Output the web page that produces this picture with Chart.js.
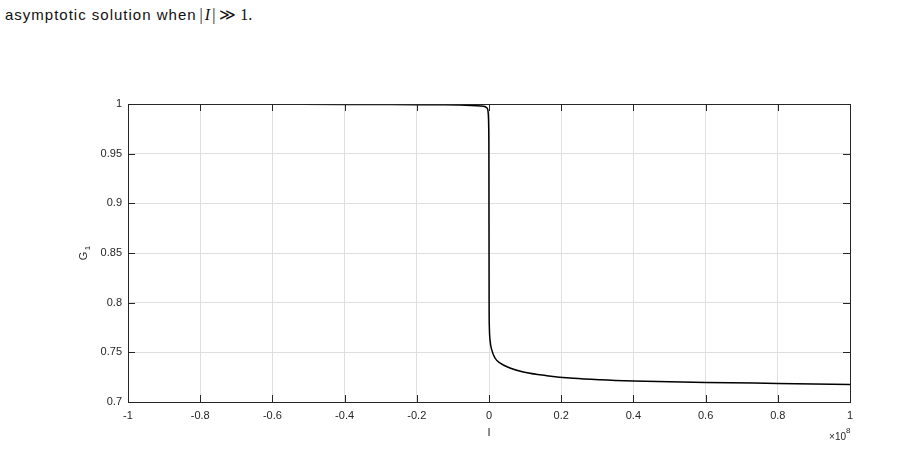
<!DOCTYPE html>
<html>
<head>
<meta charset="utf-8">
<script src="https://cdn.jsdelivr.net/npm/chart.js@4.4.1/dist/chart.umd.min.js"></script>
<style>
    body { margin: 0; background: #fff; }
    #wrap { position: relative; width: 923px; height: 462px; overflow: hidden; }
    #caption { position: absolute; left: 5px; top: 7px; font-family: "Liberation Sans", sans-serif; font-size: 15px; line-height: 15px; letter-spacing: 1px; color: #111; white-space: nowrap; }
    #caption .m { font-family: "Liberation Serif", serif; font-size: 16px; letter-spacing: 0; margin-left: 3px; }
    #caption i { margin: 0 2px; }
    #caption .op { margin: 0 4px; }
    canvas { position: absolute; left: 0; top: 0; }
</style>
</head>
<body>
<div id="wrap">
    <div id="caption">asymptotic solution when<span class="m">|<i>I</i>|<span class="op">&#8811;</span>1.</span></div>
    <canvas id="g1Chart" width="923" height="462"></canvas>
</div>
<script>
// values (x in raw units, axis shows them in 1e8)
const iValues = [
    -1e8, -0.8e8, -0.6e8, -0.4e8, -0.2e8, -0.135e8, -0.05e8, -0.023e8,
    -0.012e8, -0.008e8, -0.004e8, -0.002e8, -0.001e8, -0.0003e8,
    0.0003e8, 0.001e8, 0.003e8, 0.0075e8, 0.0166e8, 0.03e8, 0.058e8, 0.095e8,
    0.16e8, 0.234e8, 0.307e8, 0.4e8, 0.6e8, 0.8e8, 1e8
];
const g1Values = [
    0.9999, 0.9998, 0.9997, 0.9996, 0.9993, 0.9992, 0.9986, 0.998,
    0.9974, 0.9966, 0.995, 0.99, 0.98, 0.95,
    0.80, 0.775, 0.762, 0.7527, 0.7443, 0.7393, 0.7342, 0.7302,
    0.7265, 0.7238, 0.7223, 0.7211, 0.7197, 0.7187, 0.7177
];
const xTicks = [-1e8, -0.8e8, -0.6e8, -0.4e8, -0.2e8, 0, 0.2e8, 0.4e8, 0.6e8, 0.8e8, 1e8];
const yTicks = [0.7, 0.75, 0.8, 0.85, 0.9, 0.95, 1];

const axisColor = "#262626";
const fontName = "'Liberation Sans', Arial, sans-serif";

const points = iValues.map((v, i) => ({x: v, y: g1Values[i]}));

// matlab style box with ticks pointing inwards, plus axis labels
const matlabAxes = {
    id: "matlabAxes",
    afterDraw(chart) {
        const ctx = chart.ctx;
        const area = chart.chartArea;
        const xs = chart.scales.x;
        const ys = chart.scales.y;
        const tickLen = 7;
        ctx.save();
        ctx.strokeStyle = axisColor;
        ctx.lineWidth = 1;
        ctx.beginPath();
        xTicks.forEach(v => {
            const px = Math.round(xs.getPixelForValue(v)) + 0.5;
            ctx.moveTo(px, area.bottom);
            ctx.lineTo(px, area.bottom - tickLen);
            ctx.moveTo(px, area.top);
            ctx.lineTo(px, area.top + tickLen);
        });
        yTicks.forEach(v => {
            const py = Math.round(ys.getPixelForValue(v)) + 0.5;
            ctx.moveTo(area.left, py);
            ctx.lineTo(area.left + tickLen, py);
            ctx.moveTo(area.right, py);
            ctx.lineTo(area.right - tickLen, py);
        });
        ctx.stroke();
        ctx.strokeRect(Math.round(area.left) + 0.5, Math.round(area.top) + 0.5,
            Math.round(area.right - area.left), Math.round(area.bottom - area.top));

        ctx.fillStyle = axisColor;
        ctx.textBaseline = "middle";
        ctx.textAlign = "center";
        ctx.font = "11px " + fontName;
        ctx.fillText("I", xs.getPixelForValue(0), 433);

        // exponent label
        ctx.textAlign = "right";
        ctx.font = "10px " + fontName;
        ctx.fillText("\u00d710", 846, 437);
        ctx.textAlign = "left";
        ctx.font = "8px " + fontName;
        ctx.fillText("8", 846, 431);

        // y label G1 rotated
        ctx.translate(84, ys.getPixelForValue(0.85));
        ctx.rotate(-Math.PI / 2);
        ctx.textAlign = "center";
        ctx.font = "11px " + fontName;
        ctx.fillText("G", -3, 0);
        ctx.font = "8px " + fontName;
        ctx.fillText("1", 5, 4);
        ctx.restore();
    }
};

new Chart(document.getElementById("g1Chart"), {
    type: "scatter",
    data: {
        datasets: [{
            data: points,
            showLine: true,
            borderColor: "#000",
            borderWidth: 1.5,
            pointRadius: 0,
            cubicInterpolationMode: "monotone",
            fill: false
        }]
    },
    options: {
        responsive: false,
        animation: false,
        layout: {padding: {top: 104, right: 73, left: 0, bottom: 0}},
        plugins: {legend: {display: false}, tooltip: {enabled: false}},
        scales: {
            x: {
                type: "linear",
                min: -1e8,
                max: 1e8,
                afterBuildTicks: scale => { scale.ticks = xTicks.map(v => ({value: v})); },
                afterFit: scale => { scale.height = 60; },
                grid: {color: "#dfdfdf", drawTicks: false},
                border: {display: false},
                ticks: {
                    padding: 7,
                    color: axisColor,
                    font: {family: fontName, size: 11},
                    callback: v => String(Number((v / 1e8).toFixed(1)))
                }
            },
            y: {
                type: "linear",
                min: 0.7,
                max: 1,
                afterBuildTicks: scale => { scale.ticks = yTicks.map(v => ({value: v})); },
                afterFit: scale => { scale.width = 128; },
                grid: {color: "#dfdfdf", drawTicks: false},
                border: {display: false},
                ticks: {
                    padding: 6,
                    color: axisColor,
                    font: {family: fontName, size: 11},
                    callback: v => String(Number(v.toFixed(2)))
                }
            }
        }
    },
    plugins: [matlabAxes]
});
</script>
</body>
</html>
